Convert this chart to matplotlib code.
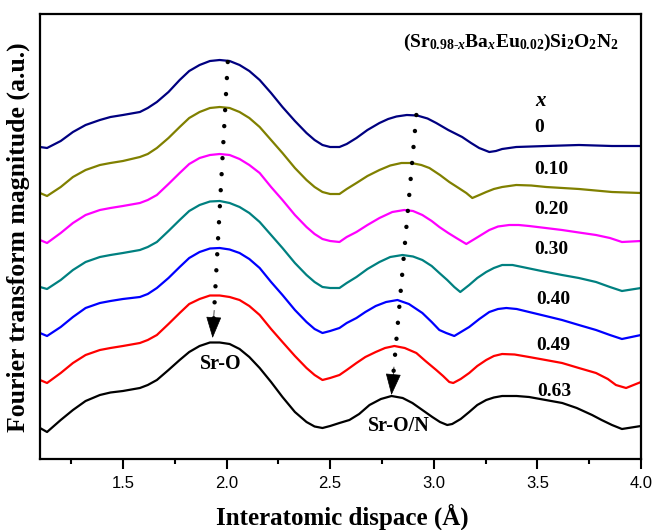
import matplotlib
matplotlib.use("Agg")
import matplotlib.pyplot as plt

plt.rcParams['font.family'] = ['Liberation Serif', 'DejaVu Serif']
plt.rcParams['font.weight'] = 'bold'
plt.rcParams['mathtext.fontset'] = 'custom'
plt.rcParams['mathtext.rm'] = 'Liberation Serif:bold'
plt.rcParams['mathtext.it'] = 'Liberation Serif:bold:italic'
plt.rcParams['mathtext.bf'] = 'Liberation Serif:bold'

# ---------- data ----------
x_labels = ["0", "0.10", "0.20", "0.30", "0.40", "0.49", "0.63"]
offsets = [31.2, 26.6, 21.9, 17.2, 12.6, 7.9, 3.1]
colors = ["#000080", "#808000", "#ff00ff", "#008080", "#0000ff", "#ff0000", "#000000"]

# common x positions for the Sr-O part (1.1 - 2.55 A)
x_left = [1.10, 1.134, 1.20, 1.259, 1.32, 1.389, 1.44, 1.50, 1.582, 1.62, 1.664, 1.72, 1.774, 1.82, 1.87,
          1.92, 1.967, 2.015, 2.063, 2.11, 2.16, 2.215, 2.27, 2.33, 2.386, 2.425, 2.463, 2.50, 2.545]

y_left_00 = [0, -0.1, 0.6, 1.5, 2.2, 2.7, 3.0, 3.2, 3.5, 3.9, 4.5, 5.5, 6.7, 7.6, 8.2,
             8.6, 8.7, 8.6, 8.2, 7.6, 6.7, 5.4, 4.0, 2.6, 1.4, 0.7, 0.2, 0.0, 0]
y_left_10 = [0, -0.3, 0.6, 1.6, 2.3, 2.8, 3.0, 3.2, 3.6, 3.9, 4.5, 5.5, 6.6, 7.5, 8.1,
             8.5, 8.6, 8.5, 8.1, 7.5, 6.6, 5.3, 4.0, 2.5, 1.3, 0.6, 0.1, -0.1, -0.1]
y_left_20 = [0, -0.3, 0.7, 1.7, 2.5, 3.0, 3.2, 3.4, 3.7, 4.0, 4.5, 5.6, 6.7, 7.6, 8.2,
             8.5, 8.6, 8.5, 8.1, 7.5, 6.7, 5.3, 4.0, 2.5, 1.3, 0.6, 0.1, -0.1, -0.2]
y_left_30 = [0, -0.2, 0.7, 1.7, 2.5, 3.0, 3.2, 3.4, 3.7, 4.0, 4.5, 5.6, 6.7, 7.6, 8.2,
             8.55, 8.6, 8.4, 8.0, 7.4, 6.5, 5.2, 3.9, 2.4, 1.2, 0.5, 0, -0.1, -0.1]
y_left_40 = [0, -0.3, 0.6, 1.6, 2.5, 3.0, 3.2, 3.4, 3.6, 3.9, 4.5, 5.5, 6.6, 7.5, 8.1,
             8.45, 8.5, 8.35, 8.0, 7.4, 6.5, 5.1, 3.8, 2.3, 1.1, 0.4, 0, 0.2, 0.5]
y_left_49 = [0, -0.3, 0.7, 1.7, 2.5, 3.0, 3.2, 3.4, 3.7, 4.0, 4.5, 5.6, 6.7, 7.6, 8.1,
             8.45, 8.45, 8.3, 8.0, 7.4, 6.5, 5.1, 3.8, 2.4, 1.2, 0.5, 0, 0.2, 0.5]
y_left_63 = [0, -0.4, 0.8, 1.8, 2.7, 3.3, 3.55, 3.7, 4.0, 4.3, 4.8, 5.8, 6.8, 7.6, 8.2,
             8.55, 8.55, 8.4, 7.9, 7.1, 6.0, 4.6, 3.1, 1.6, 0.6, 0.15, 0, 0.2, 0.5]

# Sr-O/N part (2.55 - 4.0 A), own x positions per sample
x_right_00 = [2.58, 2.627, 2.68, 2.738, 2.78, 2.82, 2.87, 2.92, 2.97, 3.012, 3.07, 3.137, 3.18, 3.219, 3.268,
              3.30, 3.33, 3.398, 3.542, 3.701, 3.86, 4.0]
y_right_00 = [0.3, 0.9, 1.7, 2.4, 2.8, 3.05, 3.2, 3.15, 2.85, 2.4, 1.7, 1.0, 0.4, -0.1, -0.5,
              -0.4, -0.2, 0, 0.1, 0.2, 0.1, 0.1]

x_right_10 = [2.58, 2.627, 2.68, 2.738, 2.79, 2.844, 2.892, 2.94, 2.979, 3.03, 3.075, 3.12, 3.157, 3.186,
              3.22, 3.253, 3.29, 3.33, 3.398, 3.47, 3.542, 3.701, 3.86, 4.0]
y_right_10 = [0.4, 1.0, 1.7, 2.3, 2.75, 3.0, 3.0, 2.8, 2.5, 1.8, 1.1, 0.5, 0, -0.5,
              -0.2, 0.1, 0.4, 0.6, 0.8, 0.75, 0.6, 0.4, 0.1, 0]

x_right_20 = [2.58, 2.627, 2.68, 2.738, 2.80, 2.858, 2.90, 2.945, 2.99, 3.027, 3.07, 3.109, 3.157, 3.205,
              3.268, 3.31, 3.364, 3.41, 3.46, 3.54, 3.619, 3.70, 3.783, 3.85, 3.908, 4.0]
y_right_20 = [0.3, 0.8, 1.5, 2.2, 2.8, 3.0, 2.9, 2.5, 1.9, 1.3, 0.7, 0.2, -0.4, 0.2,
              1.0, 1.35, 1.5, 1.5, 1.4, 1.2, 1.0, 0.75, 0.5, 0.2, -0.2, -0.1]

x_right_30 = [2.58, 2.627, 2.68, 2.738, 2.79, 2.849, 2.90, 2.945, 2.99, 3.027, 3.065, 3.099, 3.128, 3.171,
              3.21, 3.253, 3.29, 3.33, 3.38, 3.427, 3.52, 3.619, 3.70, 3.783, 3.85, 3.908, 4.0]
y_right_30 = [0.4, 1.0, 1.8, 2.5, 3.0, 3.2, 3.05, 2.7, 2.1, 1.4, 0.7, 0, -0.5, 0.2,
              0.9, 1.5, 1.9, 2.2, 2.2, 2.0, 1.6, 1.2, 0.9, 0.5, 0.0, -0.4, -0.1]

x_right_40 = [2.58, 2.627, 2.67, 2.72, 2.77, 2.825, 2.88, 2.945, 2.99, 3.027, 3.06, 3.099, 3.171, 3.22,
              3.268, 3.31, 3.35, 3.40, 3.46, 3.54, 3.619, 3.70, 3.783, 3.85, 3.908, 4.0]
y_right_40 = [1.0, 1.5, 2.1, 2.7, 3.1, 3.3, 2.9, 2.0, 1.1, 0.3, 0.0, -0.3, 0.6, 1.4,
              2.1, 2.4, 2.5, 2.4, 2.1, 1.7, 1.3, 0.8, 0.3, -0.2, -0.6, -0.2]

x_right_49 = [2.58, 2.627, 2.67, 2.72, 2.765, 2.81, 2.86, 2.916, 2.96, 3.012, 3.045, 3.075, 3.094, 3.13,
              3.171, 3.21, 3.253, 3.29, 3.33, 3.39, 3.46, 3.54, 3.619, 3.70, 3.783, 3.84, 3.879, 3.928, 4.0]
y_right_49 = [1.0, 1.7, 2.3, 2.8, 3.2, 3.4, 3.2, 2.7, 1.9, 1.0, 0.4, -0.2, -0.3, 0.1,
              0.7, 1.4, 2.0, 2.4, 2.6, 2.55, 2.3, 2.0, 1.7, 1.2, 0.7, 0.1, -0.5, -0.8, -0.2]

x_right_63 = [2.593, 2.64, 2.69, 2.745, 2.796, 2.85, 2.897, 2.945, 2.993, 3.03, 3.065, 3.089, 3.13, 3.171,
              3.21, 3.253, 3.29, 3.33, 3.40, 3.46, 3.54, 3.62, 3.69, 3.764, 3.81, 3.86, 3.908, 4.0]
y_right_63 = [0.8, 1.4, 2.3, 2.9, 3.2, 3.0, 2.5, 1.8, 1.1, 0.6, 0.3, 0.4, 0.9, 1.6,
              2.3, 2.8, 3.05, 3.2, 3.2, 3.1, 2.8, 2.5, 2.0, 1.3, 0.8, 0.3, -0.1, 0.2]

left_parts = [y_left_00, y_left_10, y_left_20, y_left_30, y_left_40, y_left_49, y_left_63]
right_x = [x_right_00, x_right_10, x_right_20, x_right_30, x_right_40, x_right_49, x_right_63]
right_y = [y_right_00, y_right_10, y_right_20, y_right_30, y_right_40, y_right_49, y_right_63]

# peak shift arrows: (start x, start y, end x, end y)
arrow_sro = (2.006, 39.7, 1.933, 12.1)
arrow_sron = (2.916, 34.4, 2.796, 6.4)

# ---------- plot ----------
fig = plt.figure(figsize=(6.54, 5.30), dpi=100)
ax = fig.add_axes([40 / 654, 1 - 459 / 530, 601 / 654, 445 / 530])

for yl, xr, yr, off, c in zip(left_parts, right_x, right_y, offsets, colors):
    xs = x_left + xr
    ys = [v + off for v in yl + yr]
    ax.plot(xs, ys, color=c, lw=1.6, solid_joinstyle='round')

label_y = [33.2, 29.0, 24.9, 20.9, 16.0, 11.4, 6.8]
label_x = [3.484, 3.484, 3.484, 3.484, 3.494, 3.494, 3.499]
for lx, ly, t in zip(label_x, label_y, x_labels):
    ax.text(lx, ly, t, fontsize=14, fontweight='bold', ha='left', va='center')
ax.text(3.49, 35.8, r'$x$', fontsize=15, ha='left', va='center')

for (x0, y0, x1, y1) in (arrow_sro, arrow_sron):
    # dotted shaft
    ax.plot([x0, x0 + (x1 - x0) * 0.93], [y0, y0 + (y1 - y0) * 0.93], color='k', lw=3.2,
            linestyle=(0, (0.01, 3.6)), dash_capstyle='round')
    # head
    ax.annotate('', xy=(x1, y1), xytext=(x0 + (x1 - x0) * 0.9, y0 + (y1 - y0) * 0.9),
                arrowprops=dict(arrowstyle='-|>,head_length=0.7,head_width=0.25',
                                mutation_scale=20, color='k', lw=0.5, shrinkA=0, shrinkB=0))

ax.text(1.972, 9.5, 'Sr-O', fontsize=14.5, fontweight='bold', ha='center', va='center')
ax.text(2.834, 3.3, 'Sr-O/N', fontsize=14.5, fontweight='bold', ha='center', va='center')

ax.text(3.37, 41.7,
        '$\\mathrm{(Sr}_{\\mathrm{0.98\u2010}x}\\mathrm{Ba}_{x}\\mathrm{Eu}_{\\mathrm{0.02}}\\mathrm{)Si}_{\\mathrm{2}}'
        '\\mathrm{O}_{\\mathrm{2}}\\mathrm{N}_{\\mathrm{2}}$',
        fontsize=14, ha='center', va='center')

ax.set_xlim(1.1, 4.0)
ax.set_ylim(0, 44.5)
ax.set_xticks([1.5, 2.0, 2.5, 3.0, 3.5, 4.0])
ax.set_xticks([1.25, 1.75, 2.25, 2.75, 3.25, 3.75], minor=True)
ax.set_xticklabels(["1.5", "2.0", "2.5", "3.0", "3.5", "4.0"], fontfamily='Liberation Sans',
                   fontweight='normal', fontsize=12)
ax.tick_params(axis='x', which='major', direction='out', length=7, width=1.5, pad=5)
ax.tick_params(axis='x', which='minor', direction='out', length=3.5, width=1.5)
ax.set_yticks([])
for s in ax.spines.values():
    s.set_linewidth(1.6)

fig.text(342 / 654, 1 - 517 / 530, 'Interatomic dispace (Å)', fontsize=18, fontweight='bold',
         ha='center', va='center')
fig.text(18 / 654, 1 - 237 / 530, 'Fourier transform magnitude (a.u.)', fontsize=18.5,
         fontweight='bold', rotation=90, ha='center', va='center')

fig.savefig("out.png", dpi=100)
